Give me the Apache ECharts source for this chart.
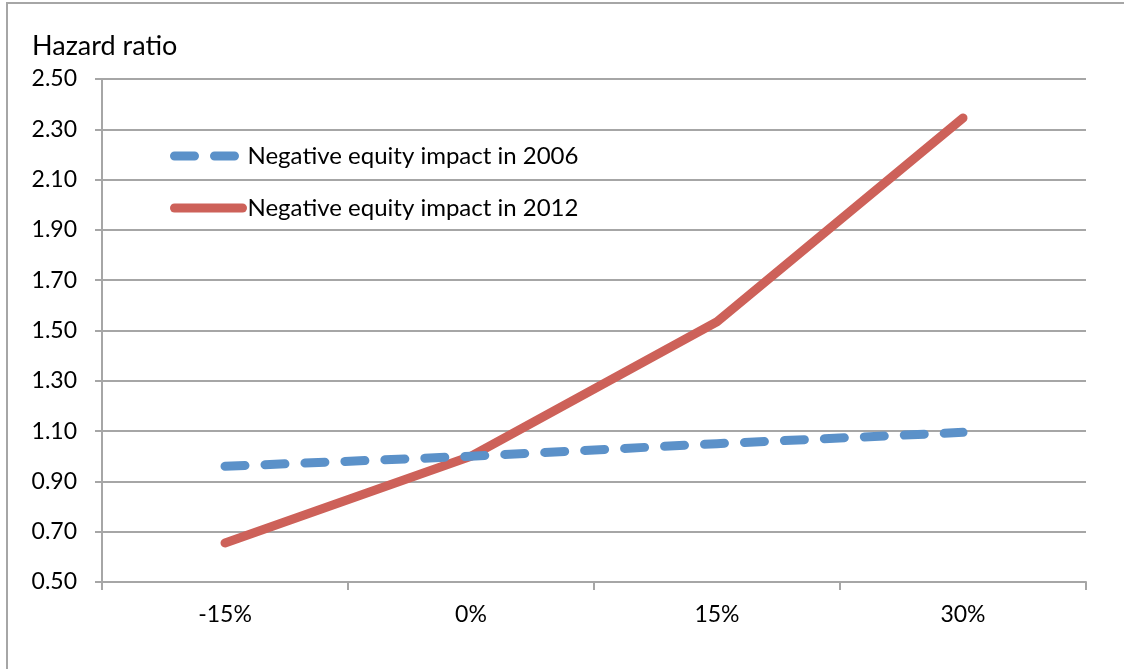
<!DOCTYPE html>
<html>
<head>
<meta charset="utf-8">
<script src="https://cdn.jsdelivr.net/npm/echarts@6/dist/echarts.min.js"></script>
<style>
	html, body {
		margin: 0;
		padding: 0;
		background: #fff;
	}
	.frame {
		position: absolute;
		left: 6px;
		top: 2px;
		width: 1118px;
		height: 667px;
		border-left: 2px solid #a6a6a6;
		border-top: 2px solid #a6a6a6;
	}
	#chart {
		position: absolute;
		left: 0;
		top: 0;
		width: 1124px;
		height: 669px;
	}
</style>
</head>
<body>
<div class="frame"></div>
<div id="chart"></div>
<script>
// Data
const categories = ['-15%', '0%', '15%', '30%']
const impact2006 = [0.96, 1.00, 1.05, 1.095]
const impact2012 = [0.655, 1.00, 1.535, 2.345]
const yTicks = { min: 0.5, max: 2.5, step: 0.2 }

const fontFamily = 'Lato, "Open Sans", sans-serif'
const gridColor = '#a6a6a6'

const chart = echarts.init(document.getElementById('chart'), null, { renderer: 'canvas' })

const option = {
	backgroundColor: 'transparent',
	animation: false,
	textStyle: { fontFamily: fontFamily },
	title: {
		text: 'Hazard ratio',
		left: 27,
		top: 28,
		textStyle: {
			fontFamily: fontFamily,
			fontSize: 27,
			fontWeight: 'normal',
			color: '#000'
		}
	},
	legend: {
		orient: 'vertical',
		left: 165,
		top: 138,
		itemWidth: 68,
		itemHeight: 10,
		itemGap: 26,
		itemStyle: { opacity: 0 },
		lineStyle: { width: 9, cap: 'round' },
		textStyle: {
			fontFamily: fontFamily,
			fontSize: 24,
			lineHeight: 26,
			color: '#000'
		},
		data: ['Negative equity impact in 2006', 'Negative equity impact in 2012']
	},
	grid: {
		left: 102,
		right: 38,
		top: 79,
		bottom: 87,
		containLabel: false
	},
	xAxis: {
		type: 'category',
		data: categories,
		boundaryGap: true,
		axisLine: { lineStyle: { color: gridColor, width: 2 } },
		axisTick: { show: true, length: 8, lineStyle: { color: gridColor, width: 2 } },
		axisLabel: {
			color: '#000',
			fontSize: 23,
			margin: 21,
			fontFamily: fontFamily
		}
	},
	yAxis: {
		type: 'value',
		min: yTicks.min,
		max: yTicks.max,
		interval: yTicks.step,
		axisLine: { show: true, lineStyle: { color: gridColor, width: 2 } },
		axisTick: { show: true, length: 7, lineStyle: { color: gridColor, width: 2 } },
		axisLabel: {
			color: '#000',
			fontSize: 23,
			margin: 25,
			fontFamily: fontFamily,
			formatter: v => v.toFixed(2)
		},
		splitLine: { lineStyle: { color: gridColor, width: 2 } }
	},
	series: [
		{
			name: 'Negative equity impact in 2006',
			type: 'line',
			data: impact2006,
			symbol: 'none',
			color: '#5b91c9',
			lineStyle: {
				width: 9,
				type: [20, 20],
				cap: 'round',
				join: 'round'
			},
			z: 3
		},
		{
			name: 'Negative equity impact in 2012',
			type: 'line',
			data: impact2012,
			symbol: 'none',
			color: '#cd6159',
			lineStyle: {
				width: 9,
				cap: 'round',
				join: 'round'
			},
			z: 2
		}
	]
}

chart.setOption(option)
</script>
</body>
</html>
